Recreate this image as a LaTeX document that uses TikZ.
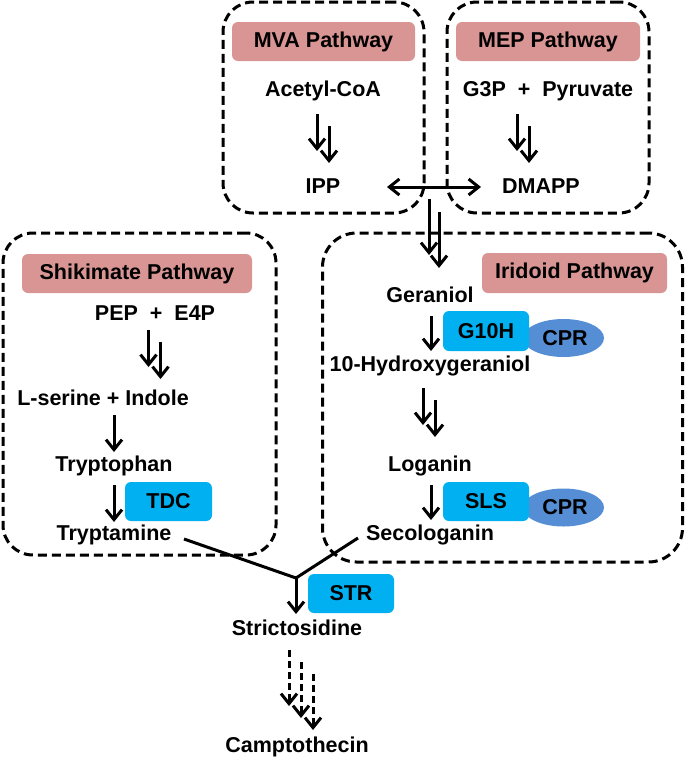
\documentclass[tikz,border=0pt]{standalone}
\usepackage{fontspec}
\setmainfont{Liberation Sans}
\usetikzlibrary{arrows.meta,shapes.geometric}
\definecolor{pinkl}{RGB}{217,149,148}
\definecolor{bluebox}{RGB}{0,176,240}
\definecolor{cprblue}{RGB}{85,142,213}
\tikzset{
  lbl/.style={inner sep=0pt,font=\fontsize{21.5}{25}\selectfont\bfseries},
  pathbox/.style={draw=black,line width=3pt,dash pattern=on 9pt off 5pt,rounded corners=30pt},
  pathlabel/.style={fill=pinkl,rounded corners=6pt,inner sep=0pt,font=\fontsize{21.5}{25}\selectfont\bfseries},
  enzyme/.style={fill=bluebox,rounded corners=6pt,inner sep=0pt,minimum width=86pt,minimum height=39pt,font=\fontsize{21.5}{25}\selectfont\bfseries},
  cpr/.style={ellipse,fill=cprblue,inner sep=0pt,minimum width=81pt,minimum height=38pt,font=\fontsize{21.5}{25}\selectfont\bfseries},
  tip/.tip={Straight Barb[length=10pt,width=16pt,line width=3pt]},
  arr/.style={line width=3pt,-tip},
  dasharr/.style={arr,dash pattern=on 7pt off 4pt},
  plain/.style={line width=3pt},
  dbl/.pic={
    \draw[arr] (-6,0) -- (-6,37);
    \draw[arr] (6,12) -- (6,49);
  }
}
\begin{document}
\begin{tikzpicture}[x=1pt,y=-1pt]
\useasboundingbox (0,0) rectangle (685,758);
% pathway boxes
\node[pathbox,minimum width=201pt,minimum height=211pt] (mvabox) at (323.5,107.5) {};
\node[pathbox,minimum width=202pt,minimum height=211pt] (mepbox) at (548,107.5) {};
\node[pathbox,minimum width=273pt,minimum height=322pt] (shikbox) at (139.5,394) {};
\node[pathbox,minimum width=360pt,minimum height=329pt,rounded corners=34pt] (iridbox) at (502.5,397.5) {};
% labels
\node[pathlabel,minimum width=183pt,minimum height=39pt] (mval) at (323.5,41.5) {MVA Pathway};
\node[pathlabel,minimum width=184pt,minimum height=39pt] (mepl) at (548,41.5) {MEP Pathway};
\node[pathlabel,minimum width=230pt,minimum height=39pt] (shikl) at (137,273.5) {Shikimate Pathway};
\node[pathlabel,minimum width=185pt,minimum height=40pt] (iridl) at (574.5,273) {Iridoid Pathway};
% MVA / MEP
\node[lbl] (acetyl) at (323,91) {Acetyl-CoA};
\node[lbl] (g3p) at (548,91) {G3P \ + \ Pyruvate};
\node[lbl] (ipp) at (323,186) {IPP};
\node[lbl] (dmapp) at (541,186) {DMAPP};
\pic at (323,114) {dbl};
\pic at (523,114) {dbl};
\coordinate (ippend) at (387,187);
\coordinate (dmappend) at (481,187);
\draw[line width=3pt,tip-tip] (ippend) -- (dmappend);
\coordinate (split1) at (429,199);
\coordinate (split2) at (439,212);
% Shikimate
\node[lbl] (pep) at (155,313) {PEP \ + \ E4P};
\node[lbl] (lser) at (103,398) {L-serine + Indole};
\node[lbl] (trp) at (114,466) {Tryptophan};
\node[lbl] (tryptamine) at (114,535) {Tryptamine};
\node[enzyme,minimum width=87pt] (tdc) at (168.5,501.5) {TDC};
\pic at (154.5,330) {dbl};
\draw[arr] (114,415) -- (114,452);
\draw[arr] (114,485) -- (114,522);
% Iridoid
\node[lbl] (geraniol) at (430,295) {Geraniol};
\node[lbl] (hydroxy) at (430,366) {10-Hydroxygeraniol};
\node[lbl] (loganin) at (430,466) {Loganin};
\node[lbl] (seco) at (430,535) {Secologanin};
\draw[arr] (split1) -- (429,255);
\draw[arr] (split2) -- (439,268);
\node[cpr] (cpr1) at (563.5,338) {\hspace*{3pt}CPR};
\node[enzyme,minimum height=40pt] (g10h) at (486,331) {G10H};
\node[cpr] (cpr2) at (563.5,507.5) {\hspace*{3pt}CPR};
\node[enzyme] (sls) at (486,501.5) {SLS};
\draw[arr] (431,316) -- (431,351);
\pic at (429,388) {dbl};
\draw[arr] (431,485) -- (431,520);
% Strictosidine
\coordinate (join) at (296,578);
\coordinate (trpend) at (184,539);
\coordinate (secoend) at (358,538);
\draw[plain] (trpend) -- (join) -- (secoend);
\node[lbl] (stric) at (297,628) {Strictosidine};
\node[enzyme] (str) at (351,593.5) {STR};
\draw[arr] (join) -- (296,614);
\node[lbl] (campto) at (297,747) {Camptothecin};
\draw[dasharr] (289,650) -- (289,706);
\draw[dasharr] (301,662) -- (301,718);
\draw[dasharr] (313,674) -- (313,730);
\end{tikzpicture}
\end{document}
